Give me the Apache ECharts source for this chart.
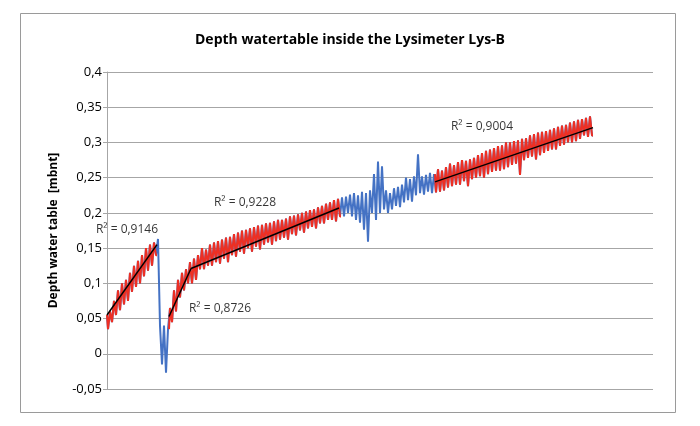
<!DOCTYPE html>
<html>
    <head>
        <meta charset="utf-8">
        <style>
            body { margin: 0; background: #fff; }
        </style>
    </head>
    <body>
        <div id="main" style="width:700px;height:426px"></div>
        <script src="https://cdn.jsdelivr.net/npm/echarts/dist/echarts.min.js"></script>
        <script type="text/javascript">
            // depth of water table per reading (index = reading no.)
            var depth = [
                0.055,0.035,0.06,0.045,0.075,0.055,0.09,0.062,0.1,0.07,0.105,0.075,0.115,0.088,0.125,0.095,0.132,0.1,0.14,0.11,0.15,0.118,0.155,0.125,0.158,0.14,
                0.163,0.04,-0.015,0.04,-0.027,
                0.035,0.065,0.045,0.09,0.06,0.105,0.08,0.115,0.09,0.12,0.1,0.13,0.1,0.135,0.105,0.14,0.12,0.15,0.12,0.148,0.125,0.155,0.125,0.158,0.13,0.16,0.128,0.162,0.135,0.165,0.13,0.166,0.14,0.17,0.138,0.172,0.145,0.175,0.142,0.176,0.15,0.178,0.145,0.18,0.152,0.182,0.148,0.183,0.155,0.185,0.158,0.186,0.155,0.188,0.16,0.19,0.162,0.19,0.165,0.192,0.162,0.195,0.17,0.196,0.168,0.198,0.175,0.2,0.172,0.202,0.178,0.204,0.18,0.205,0.178,0.208,0.185,0.21,0.185,0.213,0.19,0.215,0.19,0.218,0.188,0.22,0.195,
                0.222,0.195,0.223,0.2,0.226,0.195,0.228,0.19,0.225,0.186,0.23,0.176,0.228,0.159,0.232,0.2,0.255,0.19,0.273,0.2,0.266,0.205,0.232,0.2,0.228,0.205,0.235,0.21,0.237,0.208,0.24,0.215,0.25,0.218,0.248,0.216,0.252,0.225,0.283,0.228,0.252,0.226,0.254,0.23,0.257,0.228,0.255,
                0.229,0.262,0.23,0.26,0.232,0.265,0.236,0.27,0.238,0.268,0.24,0.272,0.24,0.275,0.245,0.274,0.238,0.276,0.248,0.278,0.25,0.282,0.252,0.285,0.25,0.288,0.255,0.29,0.258,0.292,0.26,0.295,0.26,0.296,0.262,0.3,0.265,0.3,0.268,0.302,0.27,0.303,0.254,0.305,0.275,0.306,0.278,0.31,0.28,0.312,0.276,0.314,0.282,0.315,0.285,0.316,0.288,0.318,0.29,0.32,0.29,0.322,0.295,0.324,0.297,0.325,0.3,0.328,0.3,0.33,0.302,0.332,0.305,0.333,0.31,0.335,0.308,0.337,0.31
            ]
            // index ranges used for the fits (drawn red)
            var redRanges = [[0, 25], [31, 117], [164, 243]]
            // trend lines: [x0, y0, x1, y1]
            var trends = [
                [0, 0.055, 25, 0.155],
                [31, 0.053, 42, 0.121],
                [42, 0.121, 116, 0.207],
                [164, 0.244, 243, 0.321]
            ]
            var r2Text = ['R² = 0,9146', 'R² = 0,8726', 'R² = 0,9228', 'R² = 0,9004']
            var r2At = [[10, 0.176], [56.5, 0.064], [69, 0.214], [187.5, 0.322]]
            var yMin = -0.05, yMax = 0.4, yStep = 0.05

            var font = '"Open Sans", sans-serif'
            var series = []
            series.push({
                type: 'line', showSymbol: false, z: 2, step: 'middle',
                data: depth.map((v, i) => [i, v]),
                lineStyle: { color: '#4472c4', width: 2 }
            })
            redRanges.forEach(r => {
                let pts = []
                for (let i = r[0]; i <= r[1]; i++) pts.push([i, depth[i]])
                series.push({
                    type: 'line', showSymbol: false, z: 3, step: 'middle', data: pts,
                    lineStyle: { color: '#ee2f23', width: 2 }
                })
            })
            trends.forEach(t => {
                series.push({
                    type: 'line', showSymbol: false, z: 4,
                    data: [[t[0], t[1]], [t[2], t[3]]],
                    lineStyle: { color: '#000', width: 1.5 }
                })
            })
            series.push({
                type: 'scatter', symbolSize: 0, z: 5,
                data: r2At.map((p, k) => ({ value: p, name: r2Text[k] })),
                label: {
                    show: true, position: 'inside', formatter: '{b}',
                    color: '#000', fontFamily: font, fontSize: 12
                }
            })

            var option = {
                animation: false,
                title: {
                    text: 'Depth watertable inside the Lysimeter Lys-B',
                    left: 'center', top: 28,
                    textStyle: { fontFamily: font, fontSize: 14, fontWeight: 'bold', color: '#000' }
                },
                grid: { left: 107, right: 47, top: 72, bottom: 37 },
                xAxis: {
                    type: 'value', min: 0, max: 273,
                    axisLine: { show: false }, axisTick: { show: false },
                    axisLabel: { show: false }, splitLine: { show: false }
                },
                yAxis: {
                    type: 'value', min: yMin, max: yMax, interval: yStep,
                    name: 'Depth water table  [mbnt]', nameLocation: 'middle', nameGap: 47,
                    nameTextStyle: { fontFamily: font, fontSize: 12, fontWeight: 'bold', color: '#000' },
                    axisLine: { show: true, lineStyle: { color: '#a6a6a6' } },
                    axisTick: { show: true, length: 4, lineStyle: { color: '#a6a6a6' } },
                    axisLabel: {
                        margin: 5, fontFamily: font, fontSize: 13, color: '#000',
                        formatter: v => String(+v.toFixed(2)).replace('.', ',')
                    },
                    splitLine: { lineStyle: { color: '#a6a6a6', width: 1 } }
                },
                graphic: [{
                    type: 'rect', shape: { x: 20.5, y: 13.5, width: 655, height: 399 },
                    style: { fill: 'none', stroke: '#9a9a9a', lineWidth: 1 }, silent: true
                }],
                series: series
            }
            var mycharts = echarts.init(document.getElementById('main'))
            mycharts.setOption(option)
        </script>
    </body>
</html>
